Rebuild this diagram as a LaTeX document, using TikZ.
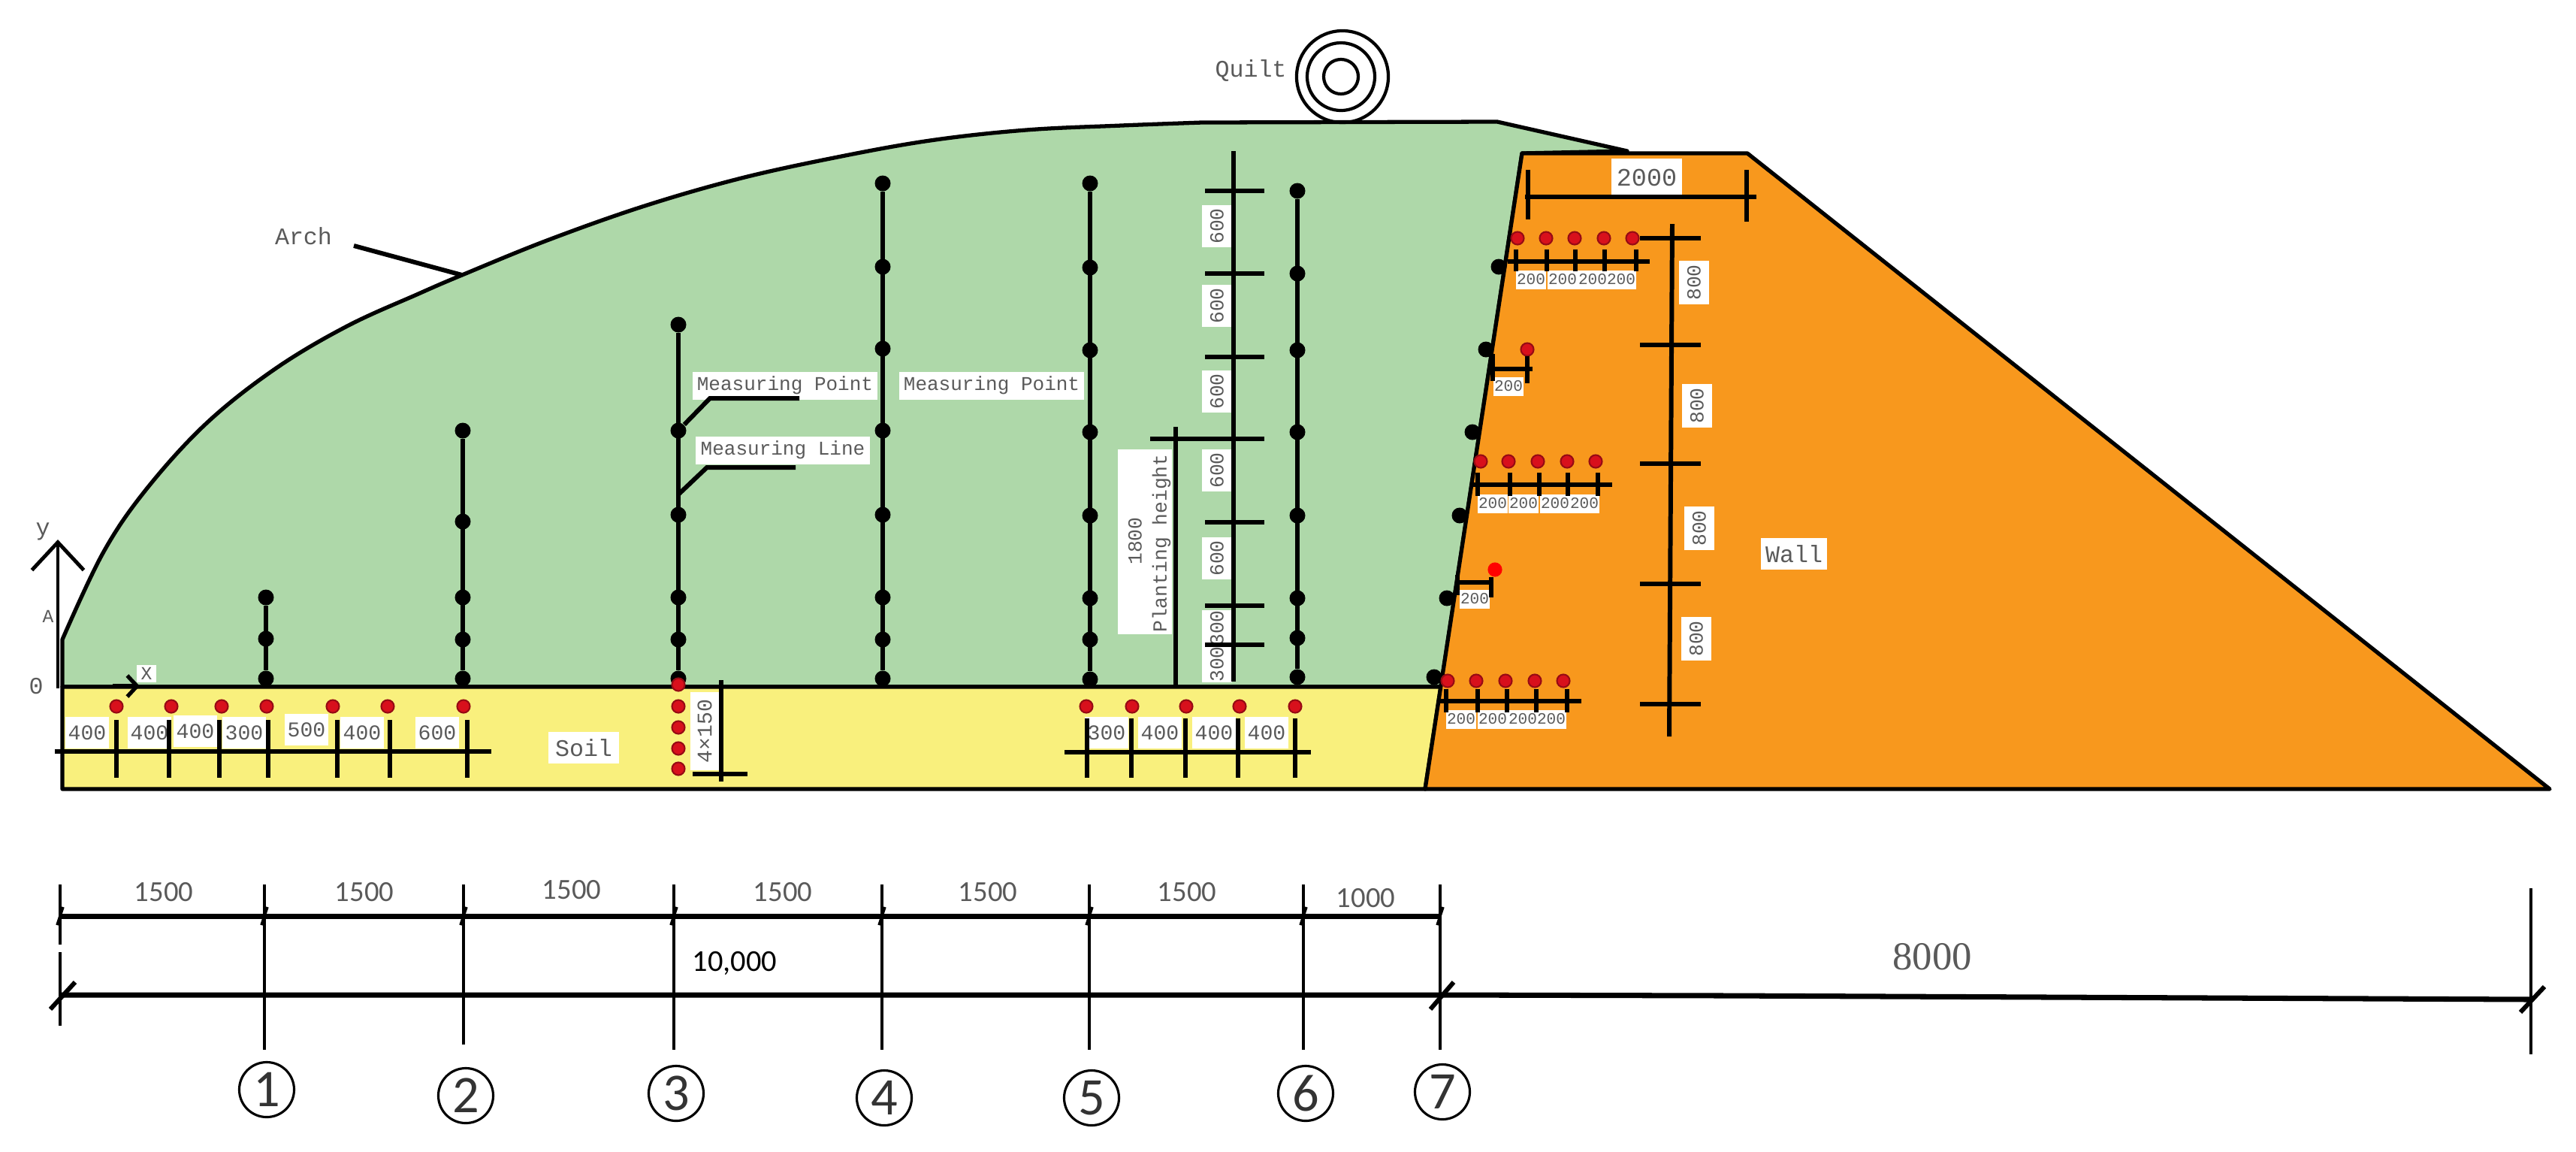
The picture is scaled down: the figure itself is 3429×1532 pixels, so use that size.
\documentclass[tikz,border=0pt]{standalone}
\usepackage{fontspec}
\usepackage{tikz}
\usetikzlibrary{arrows.meta}
\setmainfont{Liberation Serif}
\newfontfamily\monofont{Liberation Mono}
\newfontfamily\calibfont{Carlito}
\definecolor{archgreen}{HTML}{AED8A9}
\definecolor{soilyellow}{HTML}{F9F07D}
\definecolor{wallorange}{HTML}{F8981D}
\definecolor{labelgray}{HTML}{5A5A5A}
\definecolor{pointred}{HTML}{D8101C}

\begin{document}
\begin{tikzpicture}[
        x=0.01cm,y=-0.01cm,
        outline/.style={draw=black,line width=1.5pt,line join=round},
        mline/.style={draw=black,line width=1.9pt},
        dimline/.style={draw=black,line width=1.7pt},
        baseline/.style={draw=black,line width=2pt},
        gridline/.style={draw=black,line width=1.3pt},
        mpoint/.style={circle,fill=black,inner sep=0pt,minimum size=0.21cm},
        rpoint/.style={circle,fill=pointred,draw=pointred!70!black,line width=0.6pt,inner sep=0pt,minimum size=0.17cm},
        plainlab/.style={font=\fontsize{9}{9}\monofont,text=labelgray,inner sep=1pt},
        soillab/.style={fill=white,font=\fontsize{8}{8}\monofont,text=labelgray,inner sep=0pt,minimum width=0.58cm,minimum height=0.42cm},
        walllab/.style={fill=white,font=\fontsize{6}{6}\monofont,text=labelgray,inner sep=0pt,minimum width=0.40cm,minimum height=0.25cm},
        vlab/.style={fill=white,rotate=90,font=\fontsize{7.5}{7.5}\monofont,text=labelgray,inner sep=0pt,minimum width=0.56cm,minimum height=0.40cm},
        notelab/.style={fill=white,font=\fontsize{7.4}{7.4}\monofont,text=labelgray,inner sep=0pt,minimum height=0.37cm},
        spanlab/.style={font=\fontsize{11}{11}\calibfont,text=labelgray,inner sep=0pt},
        axisnum/.style={circle,draw=black,line width=0.9pt,minimum size=0.73cm,inner sep=0pt,font=\fontsize{20}{20}\calibfont,text=black!80},
      ]
      \useasboundingbox (0,0) rectangle (3429,1532);

      % Greenhouse body
      \draw[outline,fill=archgreen] plot[smooth,tension=0.6] coordinates {(83,851) (137,736) (194,652) (274,564) (366,491) (462,434) (557,391) (615,366) (728,320) (855,275) (983,238) (1110,210) (1238,187) (1366,173) (1493,167) (1600,163)}
        -- (1993,162) -- (2166,201) -- (2026,204) -- (1918,914) -- (83,914) -- cycle;
      \draw[outline,fill=soilyellow] (83,914) -- (1918,914) -- (1897,1050) -- (83,1050) -- cycle;
      \draw[outline,fill=wallorange] (2026,204) -- (2326,204) -- (3394,1050) -- (1897,1050) -- cycle;

      % Quilt
      \node[circle,draw=black,line width=1.2pt,minimum size=1.22cm,inner sep=0pt] (quiltA) at (1787,102) {};
      \node[circle,draw=black,line width=1.2pt,minimum size=0.90cm,inner sep=0pt] (quiltB) at (1785,102) {};
      \node[circle,draw=black,line width=1.2pt,minimum size=0.46cm,inner sep=0pt] (quiltC) at (1785,102) {};
      \node[plainlab] (quiltlab) at (1665,94) {Quilt};

      % Arch label
      \node[plainlab] (archlab) at (404,314) {Arch};
      \coordinate (archend) at (615,366);
      \draw[dimline] (471,327) -- (archend);

      % Labels inside the greenhouse
      \node[notelab,minimum width=2.45cm] (pointlabA) at (1045,513) {Measuring Point};
      \node[notelab,minimum width=2.45cm] (pointlabB) at (1320,513) {Measuring Point};
      \node[notelab,minimum width=2.32cm] (linelab) at (1042,599) {Measuring Line};
      \node[fill=white,inner sep=0pt,minimum width=0.72cm,minimum height=2.46cm] (plantbox) at (1524,721) {};
      \node[rotate=90,plainlab,font=\fontsize{7.5}{7.5}\monofont] (plantnum) at (1511,720) {1800};
      \node[rotate=90,plainlab,font=\fontsize{7.5}{7.5}\monofont] (plantlab) at (1546,723) {Planting height};

      % Measuring lines with their points
      \foreach \lineid/\xpos/\ylist/\lastk in {
          a/354/{795,850,903}/3,
          b/616/{573,694,795,851,903}/5,
          c/903/{432,573,685,795,851,903}/6,
          d/1175/{244,355,464,573,685,795,851,903}/8,
          e/1451/{244,356,466,575,686,796,851,904}/8,
          f/1727/{254,364,466,575,686,796,849,901}/8} {
        \foreach \yp [count=\k] in \ylist {
          \node[mpoint] (m\lineid\k) at (\xpos,\yp) {};
        }
        \draw[mline] (m\lineid1) -- (m\lineid\lastk);
      }
      % Points on the wall face
      \foreach \xpos/\yp [count=\k] in {1995/355,1978/465,1960/575,1943/686,1926/796,1909/901} {
        \node[mpoint] (w\k) at (\xpos,\yp) {};
      }

      % Leaders
      \coordinate (leadA) at (945,530);
      \coordinate (leadB) at (1064,530);
      \coordinate (leadC) at (941,622);
      \coordinate (leadD) at (1059,622);
      \coordinate (leadE) at (903,658);
      \draw[dimline] (mc2) -- (leadA) -- (leadB);
      \draw[dimline] (leadE) -- (leadC) -- (leadD);

      % Height scale in the greenhouse
      \node[vlab] (h1) at (1620,301) {600};
      \node[vlab] (h2) at (1620,407) {600};
      \node[vlab] (h3) at (1620,521) {600};
      \node[vlab] (h4) at (1620,626) {600};
      \node[vlab] (h5) at (1620,743) {600};
      \node[vlab,minimum width=0.34cm] (h6) at (1620,836) {300};
      \node[vlab,minimum width=0.34cm] (h7) at (1620,884) {300};
      \draw[dimline] (1642,201) -- (1642,907);
      \foreach \yp in {254,364,475,695,806,858} {
        \draw[dimline] (1604,\yp) -- (1683,\yp);
      }
      \draw[dimline] (1531,584) -- (1683,584);
      \draw[dimline] (1565,568) -- (1565,912);

      % Soil points, left
      \foreach \xpos/\nm in {155/s1,228/s2,295/s3,355/s4,443/s5,516/s6,617/s7} {
        \node[rpoint] (\nm) at (\xpos,940) {};
      }
      \foreach \xpos/\yp/\txt [count=\k] in {116/975/400,199/975/400,260/973/400,325/975/300,408/971/500,482/975/400,582/975/600} {
        \node[soillab] (sl\k) at (\xpos,\yp) {\txt};
      }
      \draw[dimline] (73,1000) -- (654,1000);
      \foreach \xpos in {155,225,292,357,449,519,622} {
        \draw[dimline] (\xpos,958) -- (\xpos,1035);
      }
      \node[soillab,font=\fontsize{9}{9}\monofont,minimum width=0.93cm] (soillabel) at (777,995) {Soil};

      % Soil points below line 3
      \node[rotate=90,soillab,minimum width=1.04cm,minimum height=0.38cm] (depthlab) at (938,973) {4×150};
      \foreach \yp [count=\k] in {911,940,968,996,1023} {
        \node[rpoint] (d\k) at (903,\yp) {};
      }
      \draw[dimline] (960,905) -- (960,1040);
      \draw[dimline] (922,1030) -- (995,1030);

      % Soil points, right
      \foreach \xpos/\nm in {1446/t1,1507/t2,1579/t3,1650/t4,1724/t5} {
        \node[rpoint] (\nm) at (\xpos,940) {};
      }
      \foreach \xpos/\txt [count=\k] in {1473/300,1544/400,1616/400,1686/400} {
        \node[soillab] (tl\k) at (\xpos,975) {\txt};
      }
      \draw[dimline] (1417,1001) -- (1745,1001);
      \foreach \xpos in {1447,1506,1578,1648,1724} {
        \draw[dimline] (\xpos,956) -- (\xpos,1035);
      }

      % Wall rows of points
      \foreach \xpos/\nm in {2020/ra1,2058/ra2,2096/ra3,2135/ra4,2173/ra5} {
        \node[rpoint] (\nm) at (\xpos,317) {};
      }
      \foreach \xpos [count=\k] in {2038,2080,2120,2158} {
        \node[walllab] (la\k) at (\xpos,372) {200};
      }
      \draw[dimline] (2007,348) -- (2196,348);
      \foreach \xpos in {2018,2059,2097,2136,2178} {
        \draw[dimline] (\xpos,332) -- (\xpos,361);
      }

      \node[rpoint] (rb1) at (2033,465) {};
      \node[walllab] (lb1) at (2008,514) {200};
      \draw[dimline] (1987,491) -- (2040,491);
      \draw[dimline] (1987,471) -- (1987,507);
      \draw[dimline] (2033,474) -- (2033,510);

      \foreach \xpos/\nm in {1971/rc1,2008/rc2,2047/rc3,2086/rc4,2124/rc5} {
        \node[rpoint] (\nm) at (\xpos,614) {};
      }
      \foreach \xpos [count=\k] in {1987,2028,2070,2109} {
        \node[walllab] (lc\k) at (\xpos,670) {200};
      }
      \draw[dimline] (1958,645) -- (2146,645);
      \foreach \xpos in {1967,2010,2049,2087,2127} {
        \draw[dimline] (\xpos,629) -- (\xpos,660);
      }

      \node[rpoint,fill=red,draw=red] (rd1) at (1990,758) {};
      \node[walllab] (ld1) at (1963,797) {200};
      \draw[dimline] (1940,775) -- (1987,775);
      \draw[dimline] (1940,765) -- (1940,792);
      \draw[dimline] (1985,768) -- (1985,795);

      \foreach \xpos/\nm in {1927/re1,1965/re2,2004/re3,2043/re4,2081/re5} {
        \node[rpoint] (\nm) at (\xpos,906) {};
      }
      \foreach \xpos [count=\k] in {1945,1987,2027,2065} {
        \node[walllab] (le\k) at (\xpos,957) {200};
      }
      \draw[dimline] (1913,933) -- (2105,933);
      \foreach \xpos in {1925,1967,2006,2045,2086} {
        \draw[dimline] (\xpos,917) -- (\xpos,948);
      }

      % Top width of the wall
      \node[soillab,font=\fontsize{9.5}{9.5}\monofont,minimum width=0.93cm,minimum height=0.50cm] (toplab) at (2192,236) {2000};
      \draw[dimline] (2030,262) -- (2338,262);
      \draw[dimline] (2034,226) -- (2034,292);
      \draw[dimline] (2325,226) -- (2325,295);

      % Height scale in the wall
      \node[vlab,minimum width=0.58cm,minimum height=0.40cm] (v1) at (2255,376) {800};
      \node[vlab,minimum width=0.58cm,minimum height=0.40cm] (v2) at (2259,540) {800};
      \node[vlab,minimum width=0.58cm,minimum height=0.40cm] (v3) at (2262,703) {800};
      \node[vlab,minimum width=0.58cm,minimum height=0.40cm] (v4) at (2258,850) {800};
      \draw[dimline] (2226,298) -- (2222,980);
      \foreach \yp in {317,459,617,777,937} {
        \draw[dimline] (2183,\yp) -- (2264,\yp);
      }
      \node[soillab,font=\fontsize{9}{9}\monofont,minimum width=0.88cm,minimum height=0.42cm] (walllabel) at (2388,737) {Wall};

      % Axes
      \coordinate (yfoot) at (77,916);
      \coordinate (ytip) at (77,718);
      \coordinate (xfoot) at (150,913);
      \coordinate (xtip) at (186,913);
      \draw[line width=1.4pt,-{Straight Barb[length=0.37cm,width=0.69cm]}] (yfoot) -- (ytip);
      \draw[line width=1.5pt,-{Straight Barb[length=0.13cm,width=0.28cm]}] (xfoot) -- (xtip);
      \node[plainlab] (ylab) at (57,707) {y};
      \node[plainlab,font=\fontsize{7}{7}\monofont] (alab) at (64,820) {A};
      \node[plainlab] (zerolab) at (48,913) {0};
      \node[fill=white,inner sep=0pt,minimum width=0.25cm,minimum height=0.23cm,font=\fontsize{7}{7}\monofont,text=labelgray] (xlab) at (195,896) {X};

      % Grid axes under the section
      \foreach \xpos/\nm/\yp/\ybot in {352/1/1450/1397,617/2/1458/1390,897/3/1455/1397,1174/4/1461/1397,1450/5/1461/1397,1735/6/1455/1397,1917/7/1453/1397} {
        \node[axisnum] (ax\nm) at (\xpos+3,\yp) {\nm};
        \coordinate (axtop\nm) at (\xpos,1177);
        \coordinate (axbot\nm) at (\xpos,\ybot);
        \draw[gridline] (axtop\nm) -- (axbot\nm);
      }
      \draw[gridline] (80,1177) -- (80,1257);
      \draw[gridline] (80,1267) -- (80,1365);
      \draw[gridline] (3369,1182) -- (3369,1403);

      % Span dimensions
      \draw[baseline] (80,1219) -- (1917,1219);
      \draw[baseline] (80,1324) -- (1917,1324) -- (2298,1325) -- (3369,1330);
      \foreach \xpos in {80,352,617,897,1174,1450,1735,1917} {
        \draw[dimline,line width=1pt] (\xpos+4,1207) -- (\xpos-4,1231);
      }
      \draw[dimline] (100,1307) -- (67,1343);
      \draw[dimline] (1935,1307) -- (1904,1343);
      \draw[dimline] (3387,1313) -- (3355,1347);
      \foreach \xpos/\yp/\txt [count=\k] in {218/1187/1500,485/1187/1500,761/1184/1500,1042/1187/1500,1315/1187/1500,1580/1187/1500,1818/1195/1000} {
        \node[spanlab] (span\k) at (\xpos,\yp) {\txt};
      }
      \node[spanlab,font=\fontsize{11.5}{11.5}\calibfont,text=black] (totalA) at (978,1282) {10,000};
      \node[spanlab,font=\fontsize{15}{15}\selectfont] (totalB) at (2572,1273) {8000};
    \end{tikzpicture}
\end{document}
